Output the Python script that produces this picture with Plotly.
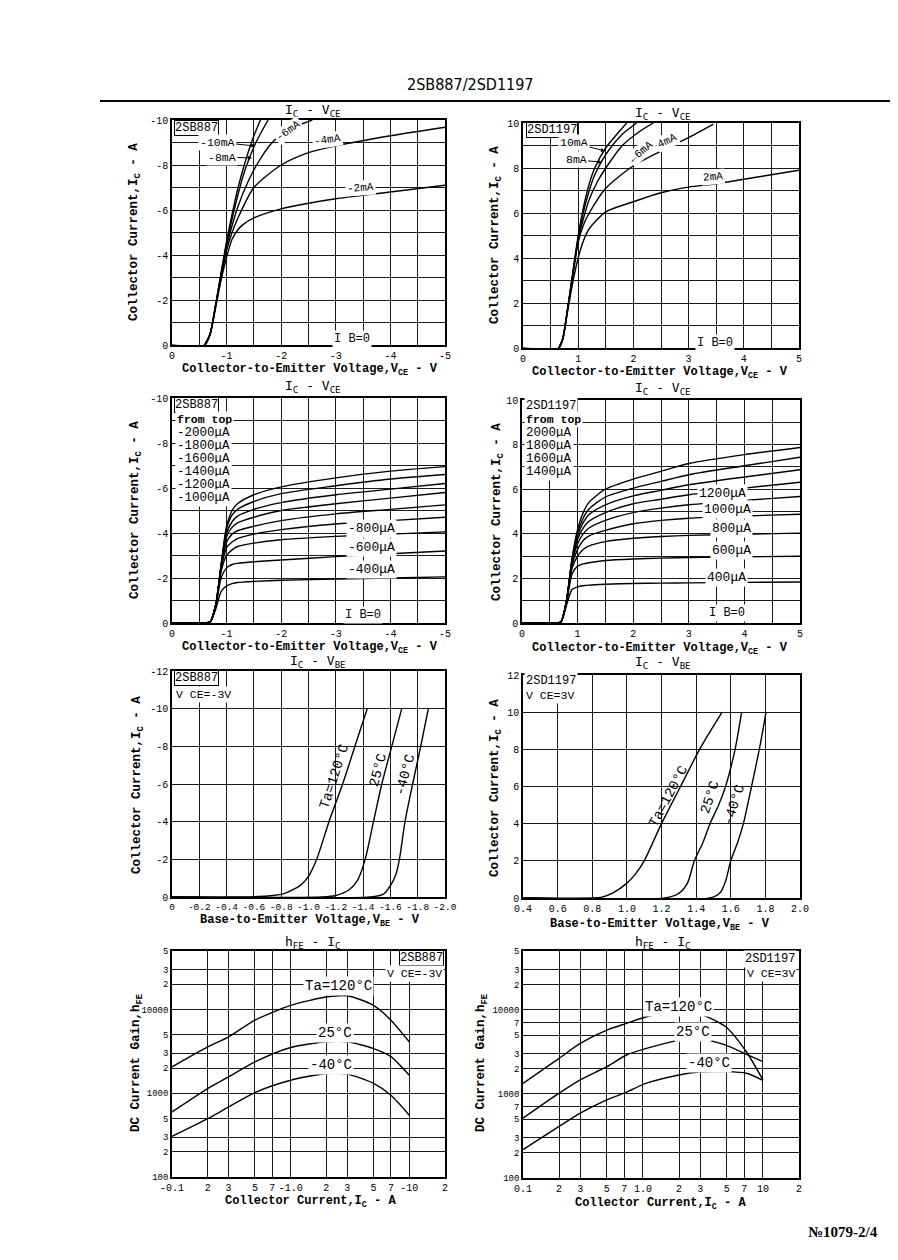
import plotly.graph_objects as go

W, H = 898, 1260
OFF = 8                      # page body margin
FW, FH = W - OFF, H - OFF    # figure size that fits the window
MONO = "Liberation Mono, DejaVu Sans Mono, monospace"

# ---------------- data ----------------
# Panel 1: 2SB887 IC-VCE, IB in mA
p1_ib = ["-10mA", "-8mA", "-6mA", "-4mA", "-2mA"]
p1_vce = [
    [0, -0.6, -0.7, -0.8, -0.9, -1.0, -1.1, -1.2, -1.3, -1.4, -1.5, -1.62],
    [-0.6, -0.7, -0.8, -0.9, -1.0, -1.1, -1.2, -1.3, -1.4, -1.5, -1.6, -1.76],
    [-0.6, -0.7, -0.8, -0.9, -1.0, -1.1, -1.2, -1.4, -1.6, -1.8, -2.0, -2.3, -2.57],
    [-0.6, -0.7, -0.8, -0.9, -1.0, -1.1, -1.2, -1.5, -2.0, -2.5, -3.0, -4.0, -5.0],
    [-0.6, -0.7, -0.8, -0.9, -1.0, -1.1, -1.2, -1.3, -1.5, -2.0, -2.5, -3.0, -4.0, -5.0],
]
p1_ic = [
    [0, 0, -0.5, -1.8, -3.2, -4.6, -5.8, -6.9, -7.8, -8.6, -9.3, -10],
    [0, -0.5, -1.8, -3.2, -4.5, -5.6, -6.6, -7.5, -8.2, -8.8, -9.3, -10],
    [0, -0.5, -1.8, -3.1, -4.4, -5.3, -6.1, -7.3, -8.2, -8.9, -9.35, -9.75, -10],
    [0, -0.5, -1.7, -3.0, -4.2, -5.0, -5.6, -7.0, -8.0, -8.55, -8.85, -9.3, -9.68],
    [0, -0.5, -1.7, -2.9, -3.9, -4.7, -5.1, -5.35, -5.65, -6.05, -6.3, -6.5, -6.8, -7.1],
]

# Panel 2: 2SD1197 IC-VCE
p2_ib = ["10mA", "8mA", "6mA", "4mA", "2mA"]
p2_vce = [
    [0, 0.65, 0.72, 0.8, 0.9, 1.0, 1.1, 1.2, 1.3, 1.5, 1.7, 1.88],
    [0.65, 0.72, 0.8, 0.9, 1.0, 1.1, 1.2, 1.3, 1.5, 1.8, 2.06],
    [0.65, 0.72, 0.8, 0.9, 1.0, 1.1, 1.2, 1.35, 1.5, 1.8, 2.1, 2.36],
    [0.65, 0.72, 0.8, 0.9, 1.0, 1.1, 1.2, 1.5, 2.0, 2.5, 3.0, 3.45],
    [0.65, 0.72, 0.8, 0.9, 1.0, 1.1, 1.2, 1.5, 2.0, 2.5, 3.0, 3.5, 4.0, 4.5, 5.0],
]
p2_ic = [
    [0, 0, 0.4, 1.6, 3.3, 5.0, 6.3, 7.3, 8.0, 8.9, 9.5, 10],
    [0, 0.4, 1.6, 3.3, 4.9, 6.1, 7.0, 7.7, 8.6, 9.5, 10],
    [0, 0.4, 1.6, 3.2, 4.8, 5.8, 6.6, 7.4, 8.0, 9.0, 9.6, 10],
    [0, 0.4, 1.6, 3.2, 4.7, 5.5, 6.0, 7.1, 8.1, 8.75, 9.35, 9.95],
    [0, 0.4, 1.5, 2.9, 4.0, 4.8, 5.3, 6.05, 6.5, 6.9, 7.15, 7.3, 7.5, 7.7, 7.9],
]

# Panel 3: 2SB887 IC-VCE, IB in uA
p3_vce = [0, -0.6, -0.7, -0.8, -0.9, -1.0, -1.1, -1.2, -1.5, -2.0, -3.0, -4.0, -5.0]
p3_ic = {
    "-2000uA": [0, 0, -0.05, -0.8, -2.6, -4.3, -5.0, -5.3, -5.7, -6.05, -6.45, -6.75, -6.95],
    "-1800uA": [0, 0, -0.05, -0.8, -2.6, -4.2, -4.8, -5.05, -5.4, -5.75, -6.1, -6.4, -6.6],
    "-1600uA": [0, 0, -0.05, -0.8, -2.55, -4.0, -4.5, -4.75, -5.05, -5.35, -5.7, -5.95, -6.2],
    "-1400uA": [0, 0, -0.05, -0.8, -2.5, -3.85, -4.25, -4.45, -4.7, -5.0, -5.3, -5.55, -5.8],
    "-1200uA": [0, 0, -0.05, -0.8, -2.45, -3.6, -3.95, -4.1, -4.3, -4.55, -4.85, -5.05, -5.25],
    "-1000uA": [0, 0, -0.05, -0.75, -2.4, -3.35, -3.6, -3.75, -3.95, -4.15, -4.4, -4.55, -4.7],
    "-800uA": [0, 0, -0.05, -0.75, -2.3, -3.0, -3.25, -3.4, -3.55, -3.7, -3.85, -3.95, -4.05],
    "-600uA": [0, 0, -0.05, -0.7, -2.0, -2.45, -2.6, -2.65, -2.72, -2.8, -2.95, -3.08, -3.2],
    "-400uA": [0, 0, -0.05, -0.6, -1.4, -1.65, -1.75, -1.8, -1.85, -1.9, -1.95, -2.0, -2.05],
}

# Panel 4: 2SD1197 IC-VCE, IB in uA
p4_vce = [0, 0.6, 0.7, 0.8, 0.9, 1.0, 1.1, 1.2, 1.5, 2.0, 2.5, 3.0, 4.0, 5.0]
p4_ic = {
    "2000uA": [0, 0, 0.05, 1.0, 2.9, 4.2, 4.95, 5.4, 6.0, 6.45, 6.8, 7.15, 7.55, 7.87],
    "1800uA": [0, 0, 0.05, 1.0, 2.85, 4.05, 4.7, 5.1, 5.65, 6.05, 6.35, 6.65, 7.05, 7.43],
    "1600uA": [0, 0, 0.05, 1.0, 2.8, 3.9, 4.5, 4.85, 5.3, 5.7, 5.95, 6.2, 6.55, 6.87],
    "1400uA": [0, 0, 0.05, 1.0, 2.75, 3.75, 4.25, 4.55, 4.95, 5.35, 5.55, 5.75, 6.05, 6.31],
    "1200uA": [0, 0, 0.05, 1.0, 2.7, 3.55, 4.0, 4.25, 4.6, 4.95, 5.15, 5.3, 5.5, 5.67],
    "1000uA": [0, 0, 0.05, 0.95, 2.6, 3.3, 3.7, 3.9, 4.15, 4.45, 4.6, 4.7, 4.8, 4.88],
    "800uA": [0, 0, 0.05, 0.95, 2.45, 3.0, 3.3, 3.45, 3.65, 3.8, 3.88, 3.93, 3.98, 4.03],
    "600uA": [0, 0, 0.05, 0.9, 2.2, 2.55, 2.65, 2.7, 2.8, 2.87, 2.91, 2.94, 2.97, 2.99],
    "400uA": [0, 0, 0.05, 0.8, 1.5, 1.62, 1.67, 1.7, 1.74, 1.77, 1.79, 1.8, 1.82, 1.84],
}

# Panel 5: 2SB887 IC-VBE
p5_ta = ["Ta=120°C", "25°C", "-40°C"]
p5_vbe = [
    [0, -0.5, -0.7, -0.82, -0.94, -1.0, -1.06, -1.15, -1.25, -1.34, -1.43],
    [0, -1.1, -1.2, -1.3, -1.36, -1.415, -1.476, -1.537, -1.61, -1.683],
    [0, -1.45, -1.55, -1.6, -1.64, -1.666, -1.707, -1.763, -1.822, -1.878],
]
p5_ic = [
    [0, 0, -0.05, -0.18, -0.62, -1.1, -2.0, -4.0, -6.0, -8.0, -10],
    [0, 0, -0.08, -0.4, -0.9, -2.0, -4.0, -6.0, -8.0, -10],
    [0, 0, -0.15, -0.6, -1.2, -2.0, -4.0, -6.0, -8.0, -10],
]

# Panel 6: 2SD1197 IC-VBE
p6_vbe = [
    [0.4, 0.8, 0.85, 0.92, 1.0, 1.05, 1.1, 1.2, 1.31, 1.42, 1.55],
    [0.4, 1.22, 1.3, 1.35, 1.39, 1.44, 1.48, 1.53, 1.57, 1.625, 1.663],
    [0.4, 1.48, 1.54, 1.57, 1.6, 1.64, 1.673, 1.72, 1.765, 1.804],
]
p6_ic = [
    [0, 0, 0.03, 0.27, 0.8, 1.3, 2.0, 4.0, 6.0, 8.0, 10],
    [0, 0, 0.25, 0.8, 2.0, 3.0, 4.0, 5.0, 6.0, 8.0, 10],
    [0, 0, 0.3, 0.9, 2.0, 3.0, 4.0, 6.0, 8.0, 10],
]

# Panel 7: 2SB887 hFE-IC (|IC| in A)
p7_ic = [0.1, 0.2, 0.3, 0.5, 1.0, 2.0, 3.0, 5.0, 7.0, 10.0]
p7_hfe = [
    [2065, 3580, 4710, 7470, 11200, 14100, 14600, 11200, 7470, 4110],
    [598, 1137, 1570, 2370, 3520, 4110, 4110, 3420, 2740, 1640],
    [306, 498, 687, 1020, 1430, 1720, 1690, 1310, 946, 546],
]

# Panel 8: 2SD1197 hFE-IC
p8_ic = [0.1, 0.2, 0.3, 0.5, 0.73, 1.07, 2.0, 2.9, 4.9, 7.3, 10.0]
p8_hfe = [
    [1336, 2650, 3980, 5740, 6890, 8260, 9460, 9040, 6280, 3150, 1470],
    [514, 1020, 1470, 2110, 2900, 3470, 4360, 4570, 3800, 2950, 2420],
    [217, 410, 590, 849, 1050, 1340, 1680, 1820, 1840, 1760, 1450],
]

# tick labels (major = labelled, minor = extra grid lines)
vce_neg_vals = [0, -1, -2, -3, -4, -5]
vce_neg_text = ["0", "-1", "-2", "-3", "-4", "-5"]
vce_neg_minor = [-0.5, -1.5, -2.5, -3.5, -4.5]
vce_pos_vals = [0, 1, 2, 3, 4, 5]
vce_pos_text = ["0", "1", "2", "3", "4", "5"]
vce_pos_minor = [0.5, 1.5, 2.5, 3.5, 4.5]
ic10_neg_vals = [0, -2, -4, -6, -8, -10]
ic10_neg_text = ["0", "-2", "-4", "-6", "-8", "-10"]
ic10_neg_minor = [-1, -3, -5, -7, -9]
ic10_pos_vals = [0, 2, 4, 6, 8, 10]
ic10_pos_text = ["0", "2", "4", "6", "8", "10"]
ic10_pos_minor = [1, 3, 5, 7, 9]
vbe_neg_vals = [0, -0.2, -0.4, -0.6, -0.8, -1.0, -1.2, -1.4, -1.6, -1.8, -2.0]
vbe_neg_text = ["0", "-0.2", "-0.4", "-0.6", "-0.8", "-1.0", "-1.2", "-1.4", "-1.6", "-1.8", "-2.0"]
vbe_pos_vals = [0.4, 0.6, 0.8, 1.0, 1.2, 1.4, 1.6, 1.8, 2.0]
vbe_pos_text = ["0.4", "0.6", "0.8", "1.0", "1.2", "1.4", "1.6", "1.8", "2.0"]
ic12_neg_vals = [0, -2, -4, -6, -8, -10, -12]
ic12_neg_text = ["0", "-2", "-4", "-6", "-8", "-10", "-12"]
ic12_pos_vals = [0, 2, 4, 6, 8, 10, 12]
ic12_pos_text = ["0", "2", "4", "6", "8", "10", "12"]
logx_vals = [0.1, 0.2, 0.3, 0.5, 0.7, 1, 2, 3, 5, 7, 10, 20]
logx_text_b = ["-0.1", "2", "3", "5", "7", "-1.0", "2", "3", "5", "7", "-10", "2"]
logx_text_d = ["0.1", "2", "3", "5", "7", "1.0", "2", "3", "5", "7", "10", "2"]
logy7_vals = [100, 200, 300, 500, 1000, 2000, 3000, 5000, 10000, 20000, 30000, 50000]
logy7_text = ["100", "2", "3", "5", "1000", "2", "3", "5", "10000", "2", "3", "5"]
logy8_vals = [100, 200, 300, 500, 700, 1000, 2000, 3000, 5000, 7000, 10000, 20000, 30000, 50000]
logy8_text = ["100", "2", "3", "5", "7", "1000", "2", "3", "5", "7", "10000", "2", "3", "5"]


def px(x, y):
    return (x - OFF) / FW, 1 - (y - OFF) / FH


def dom(x0, x1, y0, y1):
    return [(x0 - OFF) / FW, (x1 - OFF) / FW], [1 - (y1 - OFF) / FH, 1 - (y0 - OFF) / FH]


panels = [
    dict(d=dom(172, 445, 120, 345), xr=[0, -5], yr=[0, -10], xv=vce_neg_vals, xt=vce_neg_text, xm=vce_neg_minor,
         yv=ic10_neg_vals, yt=ic10_neg_text, ym=ic10_neg_minor, curves=list(zip(p1_vce, p1_ic))),
    dict(d=dom(523, 799, 123, 348), xr=[0, 5], yr=[0, 10], xv=vce_pos_vals, xt=vce_pos_text, xm=vce_pos_minor,
         yv=ic10_pos_vals, yt=ic10_pos_text, ym=ic10_pos_minor, curves=list(zip(p2_vce, p2_ic))),
    dict(d=dom(172, 445, 398, 623), xr=[0, -5], yr=[0, -10], xv=vce_neg_vals, xt=vce_neg_text, xm=vce_neg_minor,
         yv=ic10_neg_vals, yt=ic10_neg_text, ym=ic10_neg_minor, curves=[(p3_vce, v) for v in p3_ic.values()]),
    dict(d=dom(522, 800, 400, 623), xr=[0, 5], yr=[0, 10], xv=vce_pos_vals, xt=vce_pos_text, xm=vce_pos_minor,
         yv=ic10_pos_vals, yt=ic10_pos_text, ym=ic10_pos_minor, curves=[(p4_vce, v) for v in p4_ic.values()]),
    dict(d=dom(172, 445, 671, 897), xr=[0, -2], yr=[0, -12], xv=vbe_neg_vals, xt=vbe_neg_text,
         yv=ic12_neg_vals, yt=ic12_neg_text, curves=list(zip(p5_vbe, p5_ic))),
    dict(d=dom(523, 800, 675, 898), xr=[0.4, 2.0], yr=[0, 12], xv=vbe_pos_vals, xt=vbe_pos_text,
         yv=ic12_pos_vals, yt=ic12_pos_text, curves=list(zip(p6_vbe, p6_ic))),
    dict(d=dom(172, 445, 951, 1177), xr=[-1, 1.30103], yr=[2, 4.69897], xv=logx_vals, xt=logx_text_b,
         yv=logy7_vals, yt=logy7_text, log=True, curves=[(p7_ic, h) for h in p7_hfe]),
    dict(d=dom(523, 799, 951, 1178), xr=[-1, 1.30103], yr=[2, 4.69897], xv=logx_vals, xt=logx_text_d,
         yv=logy8_vals, yt=logy8_text, log=True, curves=[(p8_ic, h) for h in p8_hfe]),
]

fig = go.Figure()
layout = {}
for i, p in enumerate(panels, start=1):
    sx = "" if i == 1 else str(i)
    for xs, ys in p["curves"]:
        fig.add_trace(go.Scatter(
            x=xs, y=ys, mode="lines", xaxis="x" + sx, yaxis="y" + sx,
            line=dict(color="black", width=1.4, shape="spline", smoothing=0.7),
            showlegend=False, hoverinfo="skip"))
    atype = "log" if p.get("log") else "linear"
    common = dict(type=atype, showgrid=True, gridcolor="#1a1a1a", gridwidth=1,
                  showline=True, linecolor="black", linewidth=1.6, mirror=True,
                  ticks="", zeroline=False, tickmode="array", automargin=False,
                  tickfont=dict(family=MONO, size=10, color="black"))
    xa = dict(common, domain=p["d"][0], range=p["xr"], tickvals=p["xv"],
              ticktext=p["xt"], anchor="y" + sx)
    ya = dict(common, domain=p["d"][1], range=p["yr"], tickvals=p["yv"],
              ticktext=p["yt"], anchor="x" + sx)
    if p.get("log"):
        ya["tickfont"] = dict(family=MONO, size=9, color="black")
    if i == 5:
        xa["tickfont"] = dict(family=MONO, size=9.5, color="black")
    if p.get("xm"):
        xa["minor"] = dict(tickmode="array", tickvals=p["xm"], showgrid=True, gridcolor="#1a1a1a",
                           gridwidth=1, ticks="")
    if p.get("ym"):
        ya["minor"] = dict(tickmode="array", tickvals=p["ym"], showgrid=True, gridcolor="#1a1a1a",
                           gridwidth=1, ticks="")
    layout["xaxis" + sx] = xa
    layout["yaxis" + sx] = ya

anns = []


def ann(text, x, y, size=12, angle=0, xa="center", ya="middle", box=False, bg=None,
        family=MONO, arrow=None, color="black"):
    xx, yy = px(x, y)
    a = dict(text=text, x=xx, y=yy, xref="paper", yref="paper", showarrow=False,
             font=dict(family=family, size=size, color=color), textangle=angle,
             xanchor=xa, yanchor=ya)
    if box:
        a.update(bordercolor="black", borderwidth=1, borderpad=0, bgcolor="white")
    if bg:
        a.update(bgcolor=bg)
    if arrow:
        a.update(showarrow=True, ax=arrow[0], ay=arrow[1], arrowhead=2, arrowsize=0.8,
                 arrowwidth=1, arrowcolor="black", xanchor="center", yanchor="middle")
    anns.append(a)


# header / footer
ann("2SB887/2SD1197", 470, 85, size=16, family="Liberation Sans Narrow, DejaVu Sans Condensed, Liberation Sans")
ann("<b>№1079-2/4</b>", 843, 1232, size=15, family="Liberation Serif, DejaVu Serif")

# panel titles
for cx, cy, t in [(313, 111, "I<sub>C</sub> - V<sub>CE</sub>"), (663, 113, "I<sub>C</sub> - V<sub>CE</sub>"),
                  (313, 387, "I<sub>C</sub> - V<sub>CE</sub>"), (663, 389, "I<sub>C</sub> - V<sub>CE</sub>"),
                  (318, 661, "I<sub>C</sub> - V<sub>BE</sub>"), (663, 662, "I<sub>C</sub> - V<sub>BE</sub>"),
                  (313, 942, "h<sub>FE</sub> - I<sub>C</sub>"), (663, 942, "h<sub>FE</sub> - I<sub>C</sub>")]:
    ann(t, cx, cy, size=13, family="DejaVu Sans Mono, monospace")

# axis titles
XV = "<b>Collector-to-Emitter Voltage,V<sub>CE</sub> - V</b>"
XB = "<b>Base-to-Emitter Voltage,V<sub>BE</sub> - V</b>"
XC = "<b>Collector Current,I<sub>C</sub> - A</b>"
YC = "<b>Collector Current,I<sub>C</sub> - A</b>"
YH = "<b>DC Current Gain,h<sub>FE</sub></b>"
for cx, cy, t in [(310, 370, XV), (660, 373, XV), (310, 648, XV), (660, 649, XV),
                  (310, 921, XB), (660, 925, XB), (310, 1202, XC), (660, 1204, XC)]:
    ann(t, cx, cy, size=12)
for cx, cy, t in [(135, 232, YC), (496, 235, YC), (136, 510, YC), (498, 512, YC),
                  (138, 785, YC), (496, 788, YC), (137, 1063, YH), (482, 1063, YH)]:
    ann(t, cx, cy, size=12.5, angle=-90)

# panel 1 labels
ann("2SB887", 174, 128, size=12, xa="left", box=True)
ann("-10mA", 255, 146, size=11.5, arrow=(-38, -4), bg="white")
ann("-8mA", 252, 158, size=11.5, arrow=(-30, -1), bg="white")
ann("-6mA", 288, 131, size=11, angle=-35, bg="white")
ann("-4mA", 327, 140, size=11, angle=-8, bg="white")
ann("-2mA", 360, 188, size=11, angle=-4, bg="white")
ann("I B=0", 352, 339, size=12, bg="white")

# panel 2 labels
ann("2SD1197", 526, 130, size=12, xa="left", box=True)
ann("10mA", 605, 151, size=11.5, arrow=(-31, -8), bg="white")
ann("8mA", 602, 162, size=11.5, arrow=(-26, -2), bg="white")
ann("←6mA", 641, 152, size=11, angle=-40, bg="white")
ann("4mA", 667, 141, size=11, angle=-25, bg="white")
ann("2mA", 713, 177, size=11, angle=-5, bg="white")
ann("I B=0", 715, 343, size=12, bg="white")

# panel 3 labels
ann("2SB887", 174, 405, size=12, xa="left", box=True)
ann("<b>from top</b>", 175, 420, size=11.5, xa="left", bg="white")
for k, yy in zip(["-2000μA", "-1800μA", "-1600μA", "-1400μA", "-1200μA", "-1000μA"],
                 [433, 446, 459, 472, 485, 498]):
    ann(k, 175, yy, size=12.5, xa="left", bg="white")
ann("-800μA", 371, 529, size=13, bg="white")
ann("-600μA", 371, 548, size=13, bg="white")
ann("-400μA", 371, 569, size=13, bg="white")
ann("I B=0", 363, 615, size=12, bg="white")

# panel 4 labels
ann("2SD1197", 524, 406, size=12, xa="left", bg="white")
ann("<b>from top</b>", 524, 420, size=11.5, xa="left", bg="white")
for k, yy in zip(["2000μA", "1800μA", "1600μA", "1400μA"], [433, 446, 459, 472]):
    ann(k, 524, yy, size=12.5, xa="left", bg="white")
ann("1200μA", 722, 493, size=13, bg="white")
ann("1000μA", 727, 510, size=13, bg="white")
ann("800μA", 731, 528, size=13, bg="white")
ann("600μA", 731, 550, size=13, bg="white")
ann("400μA", 726, 577, size=13, bg="white")
ann("I B=0", 727, 613, size=12, bg="white")

# panel 5 labels
ann("2SB887", 174, 678, size=12, xa="left", box=True)
ann("V CE=-3V", 174, 694, size=11.5, xa="left", bg="white")
ann(p5_ta[0], 334, 777, size=14, angle=-72)
ann(p5_ta[1], 378, 770, size=14, angle=-75)
ann(p5_ta[2], 405, 775, size=14, angle=-75)

# panel 6 labels
ann("2SD1197", 524, 681, size=12, xa="left", bg="white")
ann("V CE=3V", 524, 695, size=11.5, xa="left", bg="white")
ann("Ta=120°C", 668, 797, size=14, angle=-62)
ann("25°C", 710, 797, size=14, angle=-72)
ann("-40°C", 734, 805, size=14, angle=-72)

# panel 7 labels
ann("2SB887", 444, 958, size=12, xa="right", box=True)
ann("V CE=-3V", 444, 973, size=11.5, xa="right", bg="white")
ann("Ta=120°C", 338, 986, size=14, bg="white")
ann("25°C", 335, 1033, size=14, bg="white")
ann("-40°C", 331, 1065, size=14, bg="white")

# panel 8 labels
ann("2SD1197", 797, 959, size=12, xa="right", bg="white")
ann("V CE=3V", 797, 973, size=11.5, xa="right", bg="white")
ann("Ta=120°C", 678, 1007, size=14, bg="white")
ann("25°C", 693, 1032, size=14, bg="white")
ann("-40°C", 709, 1063, size=14, bg="white")

shapes = [dict(type="line", xref="paper", yref="paper", x0=(100 - OFF) / FW, x1=1,
               y0=1 - (101 - OFF) / FH, y1=1 - (101 - OFF) / FH,
               line=dict(color="black", width=2))]

fig.update_layout(template="none", width=FW, height=FH, margin=dict(l=0, r=0, t=0, b=0, pad=0),
                  paper_bgcolor="white", plot_bgcolor="white",
                  annotations=anns, shapes=shapes, **layout)
fig.write_html("out.html")
